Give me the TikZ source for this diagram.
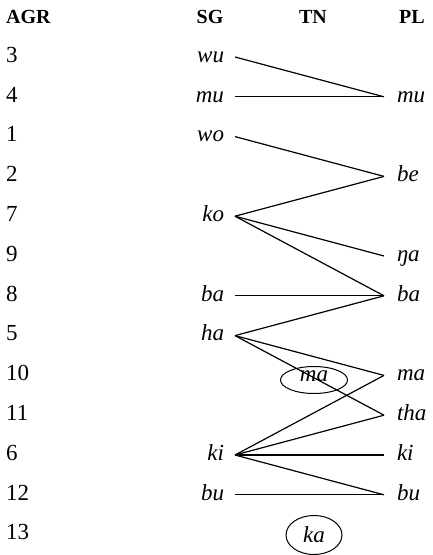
\documentclass[tikz,border=0pt]{standalone}
\usepackage{fontspec}
\setmainfont{Liberation Serif}
\usetikzlibrary{shapes.geometric}

\begin{document}
\begin{tikzpicture}[x=1pt, y=-1pt,
    hdr/.style={font=\fontsize{20}{22}\selectfont\bfseries, inner sep=0pt, anchor=base},
    agr/.style={font=\fontsize{23}{25}\selectfont, inner sep=0pt, text height=10.4pt, text depth=0pt, anchor=west},
    sg/.style={font=\fontsize{23}{25}\selectfont\itshape, inner sep=0pt, text height=10.4pt, text depth=0pt, outer sep=11pt, anchor=east},
    pl/.style={font=\fontsize{23}{25}\selectfont\itshape, inner sep=0pt, text height=10.4pt, text depth=0pt, outer sep=13pt, anchor=west},
    tn/.style={font=\fontsize{23}{25}\selectfont\itshape, ellipse, draw, line width=1pt, inner sep=0pt},
    link/.style={line width=1.2pt}]
    \useasboundingbox (0,0) rectangle (433,555);
    % column heads
    \node[hdr, anchor=base west] (hAGR) at (6,23) {AGR};
    \node[hdr] (hSG) at (210,23) {SG};
    \node[hdr] (hTN) at (313,23) {TN};
    \node[hdr] (hPL) at (412,23) {PL};
    % agreement classes
    \node[agr] (a3) at (6,57) {3};
    \node[agr] (a4) at (6,96.8) {4};
    \node[agr] (a1) at (6,136.6) {1};
    \node[agr] (a2) at (6,176.4) {2};
    \node[agr] (a7) at (6,216.2) {7};
    \node[agr] (a9) at (6,256) {9};
    \node[agr] (a8) at (6,295.8) {8};
    \node[agr] (a5) at (6,335.6) {5};
    \node[agr] (a10) at (6,375.4) {10};
    \node[agr] (a11) at (6,415.2) {11};
    \node[agr] (a6) at (6,455) {6};
    \node[agr] (a12) at (6,494.8) {12};
    \node[agr] (a13) at (6,534.6) {13};
    % singular prefixes
    \node[sg] (sgwu) at (235,57) {wu};
    \node[sg] (sgmu) at (235,96.8) {mu};
    \node[sg] (sgwo) at (235,136.6) {wo};
    \node[sg] (sgko) at (235,216.2) {ko};
    \node[sg] (sgba) at (235,295.8) {ba};
    \node[sg] (sgha) at (235,335.6) {ha};
    \node[sg] (sgki) at (235,455) {ki};
    \node[sg] (sgbu) at (235,494.8) {bu};
    % plural prefixes
    \node[pl] (plmu) at (384,96.8) {mu};
    \node[pl] (plbe) at (384,176.4) {be};
    \node[pl] (plnga) at (384,256) {ŋa};
    \node[pl] (plba) at (384,295.8) {ba};
    \node[pl] (plma) at (384,375.4) {ma};
    \node[pl] (pltha) at (384,415.2) {tha};
    \node[pl] (plki) at (384,455) {ki};
    \node[pl] (plbu) at (384,494.8) {bu};
    % transnumeral
    \node[tn, text height=10pt, text depth=8pt, minimum width=67pt, minimum height=27pt] (tnma) at (314,380) {ma};
    \node[tn, minimum width=56pt, minimum height=39pt] (tnka) at (314,535) {ka};
    % pairings
    \draw[link] (sgwu.east) -- (plmu.west);
    \draw[link] (sgmu.east) -- (plmu.west);
    \draw[link] (sgwo.east) -- (plbe.west);
    \draw[link] (sgko.east) -- (plbe.west);
    \draw[link] (sgko.east) -- (plnga.west);
    \draw[link] (sgko.east) -- (plba.west);
    \draw[link] (sgba.east) -- (plba.west);
    \draw[link] (sgha.east) -- (plba.west);
    \draw[link] (sgha.east) -- (plma.west);
    \draw[link] (sgha.east) -- (pltha.west);
    \draw[link] (sgki.east) -- (plma.west);
    \draw[link] (sgki.east) -- (pltha.west);
    \draw[link] (sgki.east) -- (plki.west);
    \draw[link] (sgki.east) -- (plbu.west);
    \draw[link] (sgbu.east) -- (plbu.west);
\end{tikzpicture}
\end{document}
